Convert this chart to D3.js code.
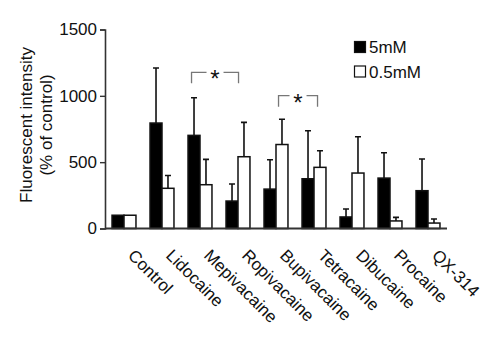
<!DOCTYPE html>
<html>
<head>
<meta charset="utf-8">
<script src="https://cdn.jsdelivr.net/npm/d3@7"></script>
<style>
	body { margin: 0; background: #fff; }
	text { font-family: "Liberation Sans", Arial, sans-serif; fill: #111; }
</style>
</head>
<body>
<div id="chart"></div>
<script>
// Data
const drugs = ["Control", "Lidocaine", "Mepivacaine", "Ropivacaine", "Bupivacaine",
	"Tetracaine", "Dibucaine", "Procaine", "QX-314"];
const high = [100, 795, 702, 207, 297, 375, 87, 380, 285];      // 5mM
const highErr = [0, 415, 284, 128, 221, 362, 60, 191, 239];
const low = [100, 303, 330, 541, 633, 461, 418, 57, 41];         // 0.5mM
const lowErr = [0, 97, 191, 259, 191, 125, 274, 27, 31];
const yTicks = [0, 500, 1000, 1500];
const seriesNames = ["5mM", "0.5mM"];
// significance brackets: [from drug, to drug, level]
const brackets = [["Mepivacaine", "Ropivacaine", 1177], ["Bupivacaine", "Tetracaine", 1001]];

const W = 501, H = 345;
const margin = { top: 29.5, right: 54, bottom: 116.5, left: 105 };
const width = W - margin.left - margin.right;
const height = H - margin.top - margin.bottom;

const svg = d3.select("#chart").append("svg")
	.attr("width", W)
	.attr("height", H);

const g = svg.append("g")
	.attr("transform", `translate(${margin.left}, ${margin.top})`);

const x = d3.scaleBand().domain(drugs).range([0, width])
	.paddingInner(0.37).paddingOuter(0.185);
const xs = d3.scaleBand().domain(seriesNames).range([0, x.bandwidth()]);
const y = d3.scaleLinear().domain([0, 1500]).range([height, 0]);

const rows = drugs.map((d, i) => ({ drug: d, vals: [
	{ s: "5mM", v: high[i], e: highErr[i] },
	{ s: "0.5mM", v: low[i], e: lowErr[i] }
]}));

const groups = g.selectAll(".grp").data(rows).enter()
	.append("g")
	.attr("class", "grp")
	.attr("transform", d => `translate(${x(d.drug)}, 0)`);

// error bars (upper only)
groups.selectAll(".err").data(d => d.vals.filter(v => v.e > 0)).enter()
	.append("path")
	.attr("class", "err")
	.attr("d", d => {
		const cx = xs(d.s) + xs.bandwidth() / 2;
		const t = y(d.v + d.e);
		return `M${cx},${y(d.v)}V${t}M${cx - 3},${t}H${cx + 3}`;
	})
	.attr("stroke", "#111")
	.attr("stroke-width", 1.6)
	.attr("fill", "none");

groups.selectAll(".bar").data(d => d.vals).enter()
	.append("rect")
	.attr("class", "bar")
	.attr("x", d => xs(d.s))
	.attr("y", d => y(d.v))
	.attr("width", xs.bandwidth())
	.attr("height", d => height - y(d.v))
	.attr("fill", d => d.s === "5mM" ? "#000" : "#fff")
	.attr("stroke", "#111")
	.attr("stroke-width", 1.5);

// axes
const yAxis = g.append("g")
	.call(d3.axisLeft(y).tickValues(yTicks).tickSize(5).tickPadding(3).tickFormat(d3.format("d")));
yAxis.select(".domain").attr("stroke", "#333").attr("stroke-width", 1.6);
yAxis.selectAll(".tick line").attr("stroke", "#333").attr("stroke-width", 1.4);
yAxis.selectAll(".tick text")
	.style("font-family", "'Liberation Sans', Arial, sans-serif")
	.style("font-size", "17px")
	.attr("fill", "#111");

g.append("line")
	.attr("x1", 0).attr("x2", width)
	.attr("y1", height).attr("y2", height)
	.attr("stroke", "#333")
	.attr("stroke-width", 1.8);

// x labels, rotated
g.selectAll(".xlab").data(drugs).enter()
	.append("text")
	.attr("class", "xlab")
	.attr("transform", d => `translate(${x(d) + x.bandwidth() / 2 + 3}, ${height + 28}) rotate(45)`)
	.style("font-size", "17px")
	.text(d => d);

// y label
const yl = svg.append("text")
	.attr("transform", "translate(32, 125) rotate(-90)")
	.attr("text-anchor", "middle")
	.style("font-size", "17px");
yl.append("tspan").attr("x", 0).attr("dy", 0).text("Fluorescent intensity");
yl.append("tspan").attr("x", 0).attr("dy", 20).text("(% of control)");

// significance brackets (left/right insets from the group edges)
const bracketInset = [[3.5, 12.5], [14.5, 15.5]];
brackets.forEach(([a, b, lvl], i) => {
	const x0 = x(a) + bracketInset[i][0];
	const x1 = x(b) + bracketInset[i][1];
	const yy = y(lvl);
	const mid = (x0 + x1) / 2;
	g.append("path")
		.attr("d", `M${x0},${yy + 11}V${yy}H${mid - 8.5}M${mid + 8.5},${yy}H${x1}V${yy + 11}`)
		.attr("stroke", "#777")
		.attr("stroke-width", 1.3)
		.attr("fill", "none");
	g.append("text")
		.attr("x", mid)
		.attr("y", yy + 15)
		.attr("text-anchor", "middle")
		.style("font-size", "24px")
		.text("*");
});

// legend
const legend = svg.append("g").attr("transform", "translate(354, 41)");
seriesNames.forEach((s, i) => {
	legend.append("rect")
		.attr("x", 0.5).attr("y", i * 24.5 + 0.5)
		.attr("width", 11).attr("height", 11)
		.attr("fill", i === 0 ? "#000" : "#fff")
		.attr("stroke", "#111")
		.attr("stroke-width", 1.2);
	legend.append("text")
		.attr("x", 15)
		.attr("y", i * 24.5 + 12)
		.style("font-size", "17px")
		.text(s);
});
</script>
</body>
</html>
